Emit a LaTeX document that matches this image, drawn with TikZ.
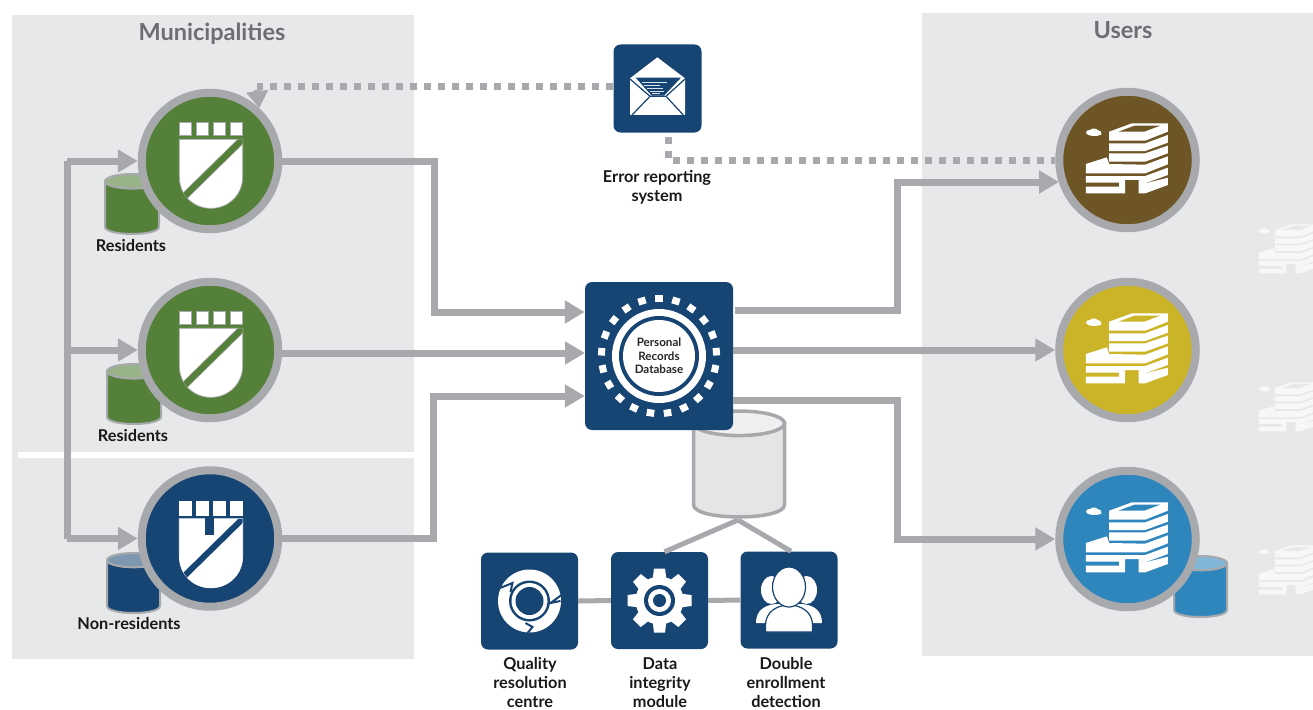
\documentclass[tikz,border=0pt]{standalone}
\usepackage{fontspec}
\setmainfont{Lato}
\usetikzlibrary{arrows.meta}
\definecolor{panel_set}{HTML}{E7E8EA}
\definecolor{line_set}{HTML}{A8A9AD}
\definecolor{navy_set}{HTML}{164473}
\definecolor{green_set}{HTML}{55803A}
\definecolor{brown_set}{HTML}{6E5525}
\definecolor{yellow_set}{HTML}{CCB428}
\definecolor{blue_set}{HTML}{2E86BD}
\definecolor{title_set}{HTML}{6D6E71}
\definecolor{ghost_set}{HTML}{F6F7F8}

% drum: left, top, width, height, body colour, top colour, line width
\newcommand{\drawDrum}[7]{
  \def\rim{#3*0.135}
  \filldraw[line_set,fill=#5,line width=#7] (#1,#2+\rim) -- (#1,#2+#4-\rim)
    .. controls (#1,#2+#4+\rim*0.33) and (#1+#3,#2+#4+\rim*0.33) .. (#1+#3,#2+#4-\rim)
    -- (#1+#3,#2+\rim) -- cycle;
  \filldraw[line_set,fill=#6,line width=#7] (#1+#3/2,#2+\rim) ellipse [x radius=#3/2,y radius=\rim];
}

\tikzset{
  hub/.style={circle,draw=line_set,line width=8pt,minimum size=136.5pt,inner sep=0pt,fill=#1},
  navybox/.style={rectangle,fill=navy_set,rounded corners=7pt,minimum size=#1,inner sep=0pt},
  flow/.style={draw=line_set,line width=7pt,-{Triangle[length=20pt,width=22pt]}},
  plainflow/.style={draw=line_set,line width=7pt},
  linkflow/.style={draw=line_set,line width=5pt},
  dotflow/.style={draw=line_set,line width=7pt,dash pattern=on 7pt off 7pt},
  lbl/.style={font=\fontsize{16.3}{19}\selectfont\bfseries,text=black!90,align=center,inner sep=0pt},
  heading/.style={font=\fontsize{23.5}{27}\selectfont\bfseries,text=title_set,inner sep=0pt},
  pics/shieldicon/.style 2 args={code={
    \begin{scope}[scale=0.3333,shift={(-450,-243)}]
      \foreach \sx in {358,409,460,511}
        \filldraw[draw=#2,fill=white,line width=0.7pt] (\sx,127) rectangle (\sx+37,167);
      \filldraw[draw=#2,fill=white,line width=0.7pt] (358,178) -- (548,178) -- (548,290)
        .. controls (548,345) and (505,385) .. (453,385)
        .. controls (400,385) and (358,345) .. (358,290) -- cycle;
      \begin{scope}
        \clip (358,178) -- (548,178) -- (548,290)
          .. controls (548,345) and (505,385) .. (453,385)
          .. controls (400,385) and (358,345) .. (358,290) -- cycle;
        \draw[#2,line width=7.5pt] (560,166) -- (360,362);
        \draw[#1,line width=6pt] (560,166) -- (360,362);
      \end{scope}
    \end{scope}
  }},
  pics/towericon/.style 2 args={code={
    \begin{scope}[scale=0.3333,shift={(-262,-240)}]
      \fill[#1] (137,158) .. controls (137,152) and (145,149) .. (150,150)
        .. controls (155,143) and (170,145) .. (172,150)
        .. controls (180,150) and (185,155) .. (184,164)
        .. controls (170,170) and (140,170) .. (137,158) -- cycle;
      \fill[#1] (207,155) -- (275,130) -- (383,130) -- (383,155) -- (315,182) -- (207,182) -- cycle;
      \fill[#2] (235,155) -- (283,137) -- (360,137) -- (312,155) -- cycle;
      \fill[#1] (207,190) -- (315,190) -- (383,165) -- (383,188) -- (315,213) -- (207,213) -- cycle;
      \fill[#1] (207,220) -- (315,220) -- (383,197) -- (383,220) -- (315,245) -- (207,245) -- cycle;
      \fill[#1] (137,252) -- (200,232) -- (207,252) -- (315,254) -- (383,229) -- (383,253) -- (315,280) -- (137,280) -- cycle;
      \fill[#1] (137,288) -- (315,288) -- (383,263) -- (383,285) -- (315,310) -- (295,300) -- (255,300)
        -- (255,340) -- (137,340) -- (137,320) -- (237,320) -- (237,308) -- (137,308) -- cycle;
      \fill[#1] (295,300) -- (315,310) -- (383,293) -- (383,315) -- (315,340) -- (295,340) -- cycle;
    \end{scope}
  }},
  pics/mailicon/.style={code={
    \begin{scope}[scale=0.3333,shift={(-262.5,-175.5)}]
      \fill[white] (262,82) -- (345,145) -- (345,255) -- (180,255) -- (180,145) -- cycle;
      \fill[navy_set] (197,143) -- (333,143) -- (282,197) -- (245,197) -- cycle;
      \draw[navy_set,line width=1.2pt] (180,147) -- (240,199) -- (288,199) -- (345,147);
      \draw[navy_set,line width=1.2pt] (186,255) -- (240,199);
      \draw[navy_set,line width=1.2pt] (340,255) -- (288,199);
      \foreach \ly/\lx/\lw in {155/215/75,164/222/48,173/230/50,182/240/42,190/246/24}
        \fill[white!85!navy_set] (\lx,\ly) rectangle (\lx+\lw,\ly+3.5);
    \end{scope}
  }},
  pics/cycleicon/.style={code={
    \fill[white] (0,0) circle (31.5pt);
    \fill[navy_set] (0,0) circle (20.5pt);
    \fill[white] (0,0) circle (18pt);
    \fill[navy_set] (0,0) circle (14pt);
    \draw[navy_set,line width=2pt] (-32,-12) -- (-17,-18) -- (-19,-9);
    \draw[navy_set,line width=2pt] (32,-6) -- (21,2) -- (31,0);
    \draw[navy_set,line width=2pt] (-4,22) -- (3,26) -- (-2,32);
  }},
  pics/gearicon/.style={code={
    \foreach \ang in {0,45,...,315}
      \fill[white,rotate=\ang] (-5.5,-32) -- (5.5,-32) -- (7,-20) -- (-7,-20) -- cycle;
    \fill[white] (0,0) circle (24pt);
    \fill[navy_set] (0,0) circle (15.5pt);
    \fill[white] (0,0) circle (11.5pt);
    \fill[navy_set] (0,0) circle (6.5pt);
  }},
  pics/peopleicon/.style={code={
    \fill[white] (-33,23) .. controls (-33,10) and (-24,5) .. (-13,4) -- (13,4)
      .. controls (24,5) and (33,10) .. (33,23) -- cycle;
    \fill[white] (-17.5,-10) ellipse [x radius=10.5,y radius=14];
    \fill[white] (17.5,-10) ellipse [x radius=10.5,y radius=14];
    \filldraw[draw=navy_set,fill=white,line width=1.2pt] (-23.5,32) -- (23.5,32) -- (23.5,25)
      .. controls (23.5,12) and (12,5) .. (0,5) .. controls (-12,5) and (-23.5,12) .. (-23.5,25) -- cycle;
    \filldraw[draw=navy_set,fill=white,line width=1.2pt] (0,-13) ellipse [x radius=16.5,y radius=20];
  }}
}

\begin{document}
\begin{tikzpicture}[x=1pt,y=-1pt,line join=miter]

\useasboundingbox (0,0) rectangle (1313,709);

% grey panels
\fill[panel_set] (12,15) rectangle (414,659);
\fill[white] (18,452) rectangle (414,458);
\fill[panel_set] (922,13) rectangle (1313,656);

\node[heading] (titleM) at (212,33.5) {Municipalities};
\node[heading] (titleU) at (1123,30) {Users};

% ghost towers
\pic at (1288,250) [scale=0.7] {towericon={ghost_set}{panel_set}};
\pic at (1288,408) [scale=0.7] {towericon={ghost_set}{panel_set}};
\pic at (1288,571) [scale=0.7] {towericon={ghost_set}{panel_set}};

% drums
\drawDrum{105}{174}{54}{60}{green_set}{green_set!60!white}{2pt}
\drawDrum{107}{364}{54}{60}{green_set}{green_set!60!white}{2pt}
\drawDrum{107}{553}{53}{60}{navy_set}{navy_set!55!white}{2pt}
\drawDrum{1174}{556}{53}{61}{blue_set}{blue_set!60!white}{2pt}
\drawDrum{693.5}{411}{91}{106}{black!10}{black!6}{3.5pt}

% hubs
\node[hub=green_set] (muniA) at (210,161) {};
\node[hub=green_set] (muniB) at (210,350) {};
\node[hub=navy_set] (muniC) at (210,538.5) {};
\node[hub=brown_set] (userA) at (1127.5,160) {};
\node[hub=yellow_set] (userB) at (1127.5,350) {};
\node[hub=blue_set] (userC) at (1127.5,539) {};

\pic at (muniA) {shieldicon={green_set}{line_set}};
\pic at (muniB) {shieldicon={green_set}{line_set}};
\pic at ([yshift=-2pt]muniC) {shieldicon={navy_set}{white}};
\fill[navy_set] ([shift={(-5,-22)}]muniC.center) rectangle ++(9,18);
\pic at (userA) {towericon={white}{brown_set}};
\pic at (userB) {towericon={white}{yellow_set}};
\pic at (userC) {towericon={white}{blue_set}};

% boxes
\node[navybox=88pt] (mail) at (657.5,88.5) {};
\node[navybox=148pt] (db) at (659,356) {};
\node[navybox=97pt] (quality) at (529.5,601) {};
\node[navybox=97pt] (integrity) at (659.5,600.5) {};
\node[navybox=97pt] (double) at (789,600) {};

\pic at (mail) {mailicon};
\pic at (quality) {cycleicon};
\pic at (integrity) {gearicon};
\pic at (double) {peopleicon};

% database seal
\foreach \ang in {0,1,...,20}
  \fill[white,rotate around={\ang*360/21:(db.center)}] ([shift={(-3.8,-61)}]db.center) rectangle ++(7.6,7);
\fill[white] (db.center) circle (47pt);
\fill[navy_set] (db.center) circle (40pt);
\node[circle,fill=white,minimum size=72pt,inner sep=0pt,align=center,font=\fontsize{11.6}{13.5}\selectfont\bfseries,text=black!85] (dbtext) at (db.center) {Personal\\Records\\Database};

% bends
\coordinate (busTop) at (67,161);
\coordinate (busMid) at (67,350);
\coordinate (busLow) at (67,538.5);
\coordinate (bendA) at (434,312);
\coordinate (bendB) at (585,353);
\coordinate (bendC) at (433,396);
\coordinate (bendD) at (897,310);
\coordinate (bendE) at (897,182);
\coordinate (bendF) at (897,400);
\coordinate (tipA) at (1059,182);
\coordinate (dotA) at (257,86);
\coordinate (dotB) at (668,160);
\coordinate (apex) at (738,520);

% connectors
\draw[plainflow] (busTop) -- (busLow);
\draw[flow] (busTop) -- (muniA.west);
\draw[flow] (busMid) -- (muniB.west);
\draw[flow] (busLow) -- (muniC.west);

\draw[flow] (muniA.east) -| (bendA) -- (bendA -| db.west);
\draw[flow] (bendB -| muniB.east) -- (bendB);
\draw[flow] (muniC.east) -| (bendC) -- (bendC -| db.west);

\draw[flow] ([xshift=2pt]bendD -| db.east) -- (bendD) -- (bendE) -- (tipA);
\draw[flow] (db.east |- userB) -- (userB.west);
\draw[flow] (bendF -| db.east) -- (bendF) |- (userC.west);

\draw[dotflow] (dotA -| mail.west) -- (dotA);
\draw[draw=line_set,line width=7pt,-{Triangle[length=17pt,width=21pt]}] ([yshift=-4pt]dotA) -- (muniA.47);
\draw[dotflow] ([yshift=-4pt]dotB |- mail.south) -- (dotB) -- (userA.west);

\draw[linkflow] (apex) -- ([xshift=5pt]integrity.north);
\draw[linkflow] (apex) -- ([xshift=2pt]double.north);
\draw[linkflow] (quality.east) -- (integrity.west);
\draw[linkflow] (integrity.east) -- (double.west);

% labels
\node[lbl] (labA) at (131,246) {Residents};
\node[lbl] (labB) at (133,436) {Residents};
\node[lbl] (labC) at (129,624) {Non-residents};
\node[lbl] (labMail) at (657,187) {Error reporting\\system};
\node[lbl] (labQ) at (530,682) {Quality\\resolution\\centre};
\node[lbl] (labI) at (660,682.5) {Data\\integrity\\module};
\node[lbl] (labD) at (786,682) {Double\\enrollment\\detection};

\end{tikzpicture}
\end{document}
